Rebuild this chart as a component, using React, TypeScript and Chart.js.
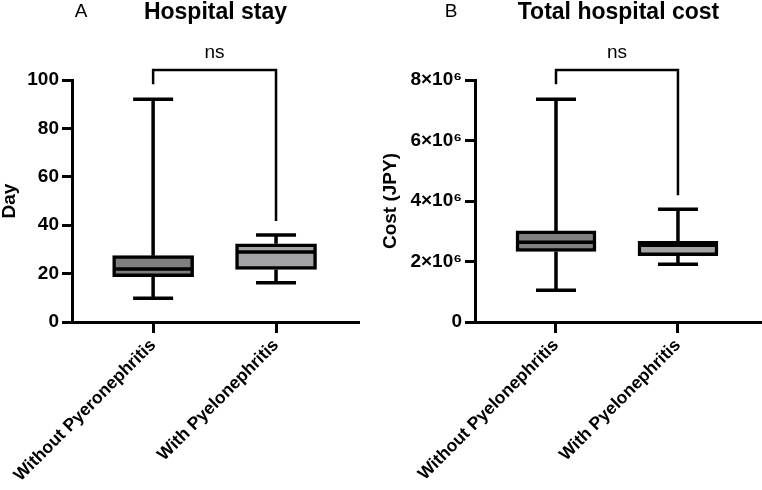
import React, { useEffect, useRef } from "react";
import { Chart, registerables } from "chart.js";

Chart.register(...registerables);

// ---------- data ----------
const stayCategories = ["Without Pyeronephritis", "With Pyelonephritis"];
const stayMin = [9.8, 16.2];
const stayQ1 = [18.7, 21.7];
const stayMedian = [21.9, 28.9];
const stayQ3 = [27.4, 32.3];
const stayMax = [92, 36];
const stayTicks = [0, 20, 40, 60, 80, 100];
const stayTickLabels = ["0", "20", "40", "60", "80", "100"];

const costCategories = ["Without Pyelonephritis", "With Pyelonephritis"];
const costMin = [1.05e6, 1.91e6];
const costQ1 = [2.33e6, 2.19e6];
const costMedian = [2.64e6, 2.54e6];
const costQ3 = [3.01e6, 2.67e6];
const costMax = [7.36e6, 3.73e6];
const costTicks = [0, 2e6, 4e6, 6e6, 8e6];
const costTickLabels = ["0", "2×10⁶", "4×10⁶", "6×10⁶", "8×10⁶"];

const boxFills = ["#7f7f7f", "#a4a4a6"];
const FONT = "'Liberation Sans', Arial, Helvetica, sans-serif";

const boxExtras = {
  id: "boxExtras",
  afterDraw(chart: any, _args: any, opts: any) {
    const ctx = chart.ctx;
    const xs = chart.scales.x;
    const ys = chart.scales.y;
    const area = chart.chartArea;
    ctx.save();
    ctx.strokeStyle = "#000";
    ctx.lineCap = "butt";
    for (let i = 0; i < opts.mins.length; i++) {
      const x = xs.getPixelForValue(i);
      const yMin = ys.getPixelForValue(opts.mins[i]);
      const yQ1 = ys.getPixelForValue(opts.q1[i]);
      const yQ3 = ys.getPixelForValue(opts.q3[i]);
      const yMax = ys.getPixelForValue(opts.maxs[i]);
      const yMed = ys.getPixelForValue(opts.medians[i]);
      ctx.lineWidth = 3.5;
      ctx.beginPath();
      ctx.moveTo(x, yMax);
      ctx.lineTo(x, yQ3);
      ctx.moveTo(x, yQ1);
      ctx.lineTo(x, yMin);
      ctx.stroke();
      ctx.beginPath();
      ctx.moveTo(x - opts.capWidth / 2, yMax);
      ctx.lineTo(x + opts.capWidth / 2, yMax);
      ctx.moveTo(x - opts.capWidth / 2, yMin);
      ctx.lineTo(x + opts.capWidth / 2, yMin);
      ctx.stroke();
      ctx.beginPath();
      ctx.moveTo(x - opts.boxWidth / 2 + 2, yMed);
      ctx.lineTo(x + opts.boxWidth / 2 - 2, yMed);
      ctx.stroke();
    }
    const x0 = xs.getPixelForValue(0);
    const x1 = xs.getPixelForValue(1);
    const top = area.top - 10;
    ctx.lineWidth = 2.5;
    ctx.beginPath();
    ctx.moveTo(x0, ys.getPixelForValue(opts.maxs[0]) - 15);
    ctx.lineTo(x0, top);
    ctx.lineTo(x1, top);
    ctx.lineTo(x1, ys.getPixelForValue(opts.maxs[1]) - 14);
    ctx.stroke();
    ctx.fillStyle = "#000";
    ctx.textAlign = "center";
    ctx.textBaseline = "middle";
    ctx.font = `19px ${FONT}`;
    ctx.fillText(opts.sig, (x0 + x1) / 2, 53);
    ctx.font = `bold 23px ${FONT}`;
    ctx.fillText(opts.title, (area.left + area.right) / 2, 13);
    ctx.font = `19px ${FONT}`;
    ctx.fillText(opts.letter, opts.letterX, 12);
    ctx.restore();
  },
};

function makeConfig(p: any) {
  const tickFont = { family: FONT, size: 19, weight: "bold" as const };
  return {
    type: "bar" as const,
    data: {
      datasets: [
        {
          data: p.q1.map((v: number, i: number) => ({ x: i, y: [v, p.q3[i]] })),
          backgroundColor: boxFills,
          borderColor: "#000",
          borderWidth: 3.5,
          borderSkipped: false,
          barThickness: p.boxWidth,
        },
      ],
    },
    options: {
      responsive: false,
      animation: false as const,
      layout: { padding: { left: 0, right: p.rightPad, top: 80, bottom: 0 } },
      plugins: {
        legend: { display: false },
        tooltip: { enabled: false },
        boxExtras: {
          mins: p.mins,
          q1: p.q1,
          q3: p.q3,
          medians: p.medians,
          maxs: p.maxs,
          capWidth: 40,
          boxWidth: p.boxWidth,
          sig: "ns",
          title: p.title,
          letter: p.letter,
          letterX: p.letterX,
        },
      },
      scales: {
        x: {
          type: "linear" as const,
          offset: false,
          min: p.xMin,
          max: p.xMax,
          afterBuildTicks: (s: any) => {
            s.ticks = p.categories.map((_: string, i: number) => ({ value: i }));
          },
          afterFit: (s: any) => {
            s.height = 168;
            s.paddingLeft = 0;
            s.paddingRight = 0;
          },
          ticks: {
            autoSkip: false,
            minRotation: 45,
            maxRotation: 45,
            padding: 2,
            color: "#000",
            font: { family: FONT, size: 17.5, weight: "bold" as const },
            callback: (v: number) => p.categories[v] ?? "",
          },
          grid: {
            display: true,
            offset: false,
            drawOnChartArea: false,
            drawTicks: true,
            tickLength: 11,
            tickWidth: 3,
            tickColor: "#000",
          },
          border: { display: true, color: "#000", width: 3 },
        },
        y: {
          type: "linear" as const,
          min: p.yTicks[0],
          max: p.yTicks[p.yTicks.length - 1],
          afterBuildTicks: (s: any) => {
            s.ticks = p.yTicks.map((v: number) => ({ value: v }));
          },
          afterFit: (s: any) => {
            s.width = p.yWidth;
            s.paddingTop = 0;
            s.paddingBottom = 0;
          },
          ticks: {
            padding: 3,
            color: "#000",
            font: tickFont,
            callback: (v: number) => p.yTickLabels[p.yTicks.indexOf(v)] ?? "",
          },
          grid: {
            display: true,
            drawOnChartArea: false,
            drawTicks: true,
            tickLength: 10,
            tickWidth: 3,
            tickColor: "#000",
          },
          border: { display: true, color: "#000", width: 3 },
          title: {
            display: true,
            text: p.yTitle,
            color: "#000",
            padding: 0,
            font: { family: FONT, size: 19, weight: "bold" as const, lineHeight: 1 },
          },
        },
      },
    },
    plugins: [boxExtras],
  };
}

function Panel(props: { cfg: any; left: number }) {
  const ref = useRef<HTMLCanvasElement>(null);
  useEffect(() => {
    const chart = new Chart(ref.current as HTMLCanvasElement, makeConfig(props.cfg) as any);
    return () => chart.destroy();
  }, []);
  return (
    <canvas
      ref={ref}
      width={381}
      height={490}
      style={{ position: "absolute", left: props.left, top: 0, width: 381, height: 490 }}
    />
  );
}

export default function App() {
  const stay = {
    categories: stayCategories,
    mins: stayMin,
    q1: stayQ1,
    medians: stayMedian,
    q3: stayQ3,
    maxs: stayMax,
    yTicks: stayTicks,
    yTickLabels: stayTickLabels,
    yTitle: "Day",
    title: "Hospital stay",
    letter: "A",
    letterX: 81,
    xMin: -0.66,
    xMax: 1.675,
    yWidth: 72,
    rightPad: 22,
    boxWidth: 81,
  };
  const cost = {
    categories: costCategories,
    mins: costMin,
    q1: costQ1,
    medians: costMedian,
    q3: costQ3,
    maxs: costMax,
    yTicks: costTicks,
    yTickLabels: costTickLabels,
    yTitle: "Cost (JPY)",
    title: "Total hospital cost",
    letter: "B",
    letterX: 70,
    xMin: -0.664,
    xMax: 1.689,
    yWidth: 94,
    rightPad: 0,
    boxWidth: 80,
  };
  return (
    <div style={{ position: "absolute", left: 0, top: 0, width: 762, height: 490, background: "#fff" }}>
      <Panel cfg={stay} left={0} />
      <Panel cfg={cost} left={381} />
    </div>
  );
}
